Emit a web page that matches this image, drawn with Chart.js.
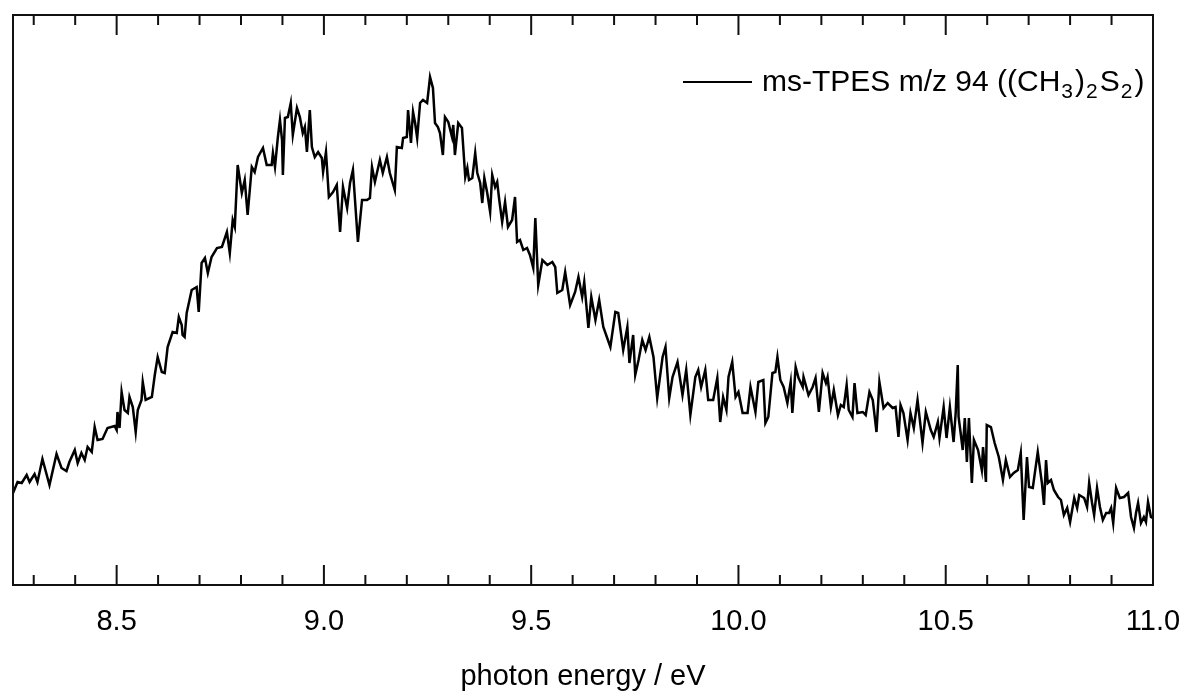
<!DOCTYPE html>
<html>
<head>
<meta charset="utf-8">
<script src="https://cdn.jsdelivr.net/npm/chart.js@4.4.0/dist/chart.umd.min.js"></script>
<style>
    body { margin: 0; background: #fff; }
    #grafico { display: block; }
</style>
</head>
<body>
<canvas id="grafico" width="1185" height="691"></canvas>
<script>
var energia = [
    8.250, 8.261, 8.271, 8.283, 8.290, 8.302, 8.309, 8.321, 8.338, 8.355, 8.367, 8.379, 8.386, 8.399, 8.406, 8.415,
    8.423, 8.430, 8.440, 8.447, 8.454, 8.466, 8.478, 8.495, 8.500, 8.502, 8.507, 8.512, 8.519, 8.527, 8.531, 8.539,
    8.546, 8.551, 8.560, 8.563, 8.570, 8.585, 8.592, 8.599, 8.609, 8.616, 8.623, 8.635, 8.645, 8.650, 8.657, 8.659,
    8.664, 8.669, 8.681, 8.693, 8.698, 8.705, 8.713, 8.720, 8.729, 8.742, 8.754, 8.766, 8.773, 8.780, 8.785, 8.792,
    8.802, 8.809, 8.816, 8.826, 8.833, 8.841, 8.853, 8.862, 8.874, 8.877, 8.882, 8.889, 8.894, 8.899, 8.901, 8.906,
    8.913, 8.920, 8.925, 8.935, 8.942, 8.949, 8.954, 8.959, 8.966, 8.971, 8.978, 8.986, 8.995, 8.998, 9.005, 9.012,
    9.022, 9.031, 9.039, 9.046, 9.056, 9.063, 9.070, 9.082, 9.092, 9.104, 9.111, 9.116, 9.123, 9.135, 9.142, 9.152,
    9.159, 9.171, 9.176, 9.188, 9.191, 9.200, 9.203, 9.210, 9.215, 9.220, 9.225, 9.232, 9.239, 9.249, 9.256, 9.263,
    9.268, 9.275, 9.280, 9.287, 9.292, 9.300, 9.309, 9.312, 9.316, 9.324, 9.333, 9.341, 9.346, 9.350, 9.358, 9.365,
    9.370, 9.377, 9.382, 9.387, 9.394, 9.401, 9.406, 9.413, 9.418, 9.423, 9.430, 9.437, 9.444, 9.454, 9.461, 9.466,
    9.473, 9.481, 9.490, 9.497, 9.505, 9.510, 9.517, 9.527, 9.539, 9.551, 9.558, 9.563, 9.575, 9.582, 9.594, 9.606,
    9.614, 9.623, 9.628, 9.638, 9.645, 9.655, 9.664, 9.674, 9.691, 9.703, 9.710, 9.722, 9.732, 9.737, 9.746, 9.751,
    9.759, 9.768, 9.776, 9.785, 9.795, 9.804, 9.817, 9.824, 9.833, 9.841, 9.853, 9.865, 9.874, 9.884, 9.896, 9.903,
    9.910, 9.920, 9.927, 9.939, 9.949, 9.956, 9.963, 9.971, 9.976, 9.985, 9.993, 10.000, 10.010, 10.022, 10.029, 10.041,
    10.048, 10.060, 10.065, 10.072, 10.082, 10.089, 10.094, 10.101, 10.109, 10.118, 10.126, 10.130, 10.138, 10.145, 10.155, 10.157,
    10.169, 10.179, 10.186, 10.194, 10.203, 10.211, 10.215, 10.223, 10.230, 10.240, 10.247, 10.254, 10.261, 10.266, 10.275, 10.280,
    10.287, 10.300, 10.307, 10.316, 10.324, 10.333, 10.340, 10.350, 10.360, 10.372, 10.379, 10.386, 10.391, 10.398, 10.408, 10.415,
    10.423, 10.432, 10.444, 10.452, 10.464, 10.471, 10.481, 10.485, 10.495, 10.502, 10.510, 10.519, 10.524, 10.529, 10.531, 10.536,
    10.541, 10.546, 10.551, 10.556, 10.563, 10.568, 10.578, 10.587, 10.590, 10.597, 10.599, 10.609, 10.618, 10.628, 10.638, 10.645,
    10.655, 10.664, 10.674, 10.681, 10.688, 10.696, 10.701, 10.710, 10.722, 10.732, 10.737, 10.742, 10.746, 10.754, 10.761, 10.771,
    10.778, 10.785, 10.793, 10.800, 10.810, 10.817, 10.822, 10.834, 10.841, 10.846, 10.853, 10.858, 10.865, 10.872, 10.879, 10.887,
    10.894, 10.899, 10.904, 10.911, 10.920, 10.930, 10.940, 10.947, 10.954, 10.959, 10.964, 10.971, 10.978, 10.983, 10.988, 10.995,
    11.000
];

var intensidade = [
    92, 103, 102, 110, 103, 111, 103, 126, 100, 131, 117, 114, 123, 135, 122, 132,
    125, 138, 133, 158, 145, 146, 157, 159, 155, 173, 157, 193, 175, 172, 188, 178,
    153, 175, 185, 203, 185, 188, 210, 228, 213, 212, 238, 253, 252, 268, 260, 250,
    248, 272, 295, 298, 273, 322, 327, 312, 328, 337, 338, 353, 332, 365, 358, 420,
    392, 405, 370, 418, 413, 428, 437, 420, 420, 432, 418, 448, 465, 445, 410, 467,
    468, 482, 450, 477, 468, 452, 458, 433, 475, 438, 428, 433, 427, 413, 433, 388,
    393, 400, 353, 398, 377, 402, 415, 343, 385, 385, 387, 418, 403, 425, 412, 428,
    412, 395, 438, 437, 447, 448, 475, 442, 473, 462, 447, 482, 485, 482, 508, 497,
    462, 458, 452, 430, 468, 463, 448, 460, 430, 462, 457, 408, 417, 405, 407, 432,
    412, 402, 382, 407, 392, 373, 410, 398, 403, 385, 363, 383, 358, 365, 388, 343,
    345, 335, 337, 330, 317, 367, 300, 325, 320, 323, 318, 292, 295, 313, 280, 293,
    308, 288, 303, 257, 288, 265, 285, 258, 238, 273, 272, 235, 258, 222, 250, 210,
    225, 245, 235, 248, 228, 187, 228, 238, 187, 208, 223, 190, 215, 170, 208, 215,
    198, 215, 185, 185, 207, 163, 188, 175, 208, 223, 188, 193, 172, 172, 198, 173,
    203, 205, 162, 168, 212, 213, 228, 205, 198, 182, 203, 172, 218, 207, 198, 208,
    190, 198, 207, 173, 212, 202, 208, 178, 195, 170, 180, 178, 200, 175, 168, 202,
    172, 173, 170, 193, 185, 153, 203, 177, 182, 177, 178, 148, 180, 172, 145, 172,
    157, 185, 142, 173, 155, 148, 163, 147, 178, 147, 178, 143, 172, 220, 168, 152,
    135, 167, 123, 167, 102, 145, 135, 115, 138, 103, 160, 158, 142, 128, 105, 125,
    108, 112, 115, 132, 65, 128, 98, 97, 133, 102, 80, 125, 102, 105, 95, 88,
    85, 70, 77, 63, 87, 77, 90, 87, 78, 102, 82, 70, 97, 78, 65, 72,
    72, 77, 62, 97, 87, 88, 92, 68, 57, 72, 82, 62, 68, 63, 83, 68,
    67
];

var ticksPrincipais = [8.5, 9.0, 9.5, 10.0, 10.5, 11.0];
var eixoX = { min: 8.25, max: 11.0 };
var eixoY = { min: 0, max: 570 };
var tituloX = 'photon energy / eV';
// texto da legenda dividido em partes normais e subscritas
var legendaPartes = [
    { t: 'ms-TPES m/z 94 ((CH', sub: false },
    { t: '3', sub: true },
    { t: ')', sub: false },
    { t: '2', sub: true },
    { t: 'S', sub: false },
    { t: '2', sub: true },
    { t: ')', sub: false }
];

const fonte = "'Liberation Sans', Arial, sans-serif";

var pontos = energia.map(function (e, i) {
    return { x: e, y: intensidade[i] };
});

// moldura, ticks para dentro e legenda
const molduraPlugin = {
    id: 'moldura',
    afterDraw: function (chart) {
        var ctx = chart.ctx;
        var area = chart.chartArea;
        var x = chart.scales.x;

        ctx.save();
        ctx.strokeStyle = '#111';
        ctx.lineWidth = 2;
        ctx.strokeRect(area.left, area.top, area.right - area.left, area.bottom - area.top);

        var menores = [];
        for (var v = 8.3; v < 11.0; v += 0.1) {
            var r = Math.round(v * 10) / 10;
            if (ticksPrincipais.indexOf(r) < 0) menores.push(r);
        }

        ctx.beginPath();
        ticksPrincipais.forEach(function (t) {
            var px = x.getPixelForValue(t);
            ctx.moveTo(px, area.bottom);
            ctx.lineTo(px, area.bottom - 20);
            ctx.moveTo(px, area.top);
            ctx.lineTo(px, area.top + 20);
        });
        menores.forEach(function (t) {
            var px = x.getPixelForValue(t);
            ctx.moveTo(px, area.bottom);
            ctx.lineTo(px, area.bottom - 10);
            ctx.moveTo(px, area.top);
            ctx.lineTo(px, area.top + 10);
        });
        ctx.stroke();

        // legenda
        ctx.strokeStyle = '#000';
        ctx.lineWidth = 2;
        ctx.beginPath();
        ctx.moveTo(683, 82);
        ctx.lineTo(752, 82);
        ctx.stroke();

        ctx.fillStyle = '#000';
        ctx.textBaseline = 'alphabetic';
        ctx.textAlign = 'left';
        var cx = 762;
        legendaPartes.forEach(function (p) {
            if (p.sub) {
                ctx.font = '21px ' + fonte;
                ctx.fillText(p.t, cx + 1, 98);
                cx += ctx.measureText(p.t).width + 3;
            } else {
                ctx.font = '30px ' + fonte;
                ctx.fillText(p.t, cx, 91);
                cx += ctx.measureText(p.t).width;
            }
        });
        ctx.restore();
    }
};

new Chart(document.getElementById('grafico'), {
    type: 'scatter',
    data: {
        datasets: [{
            label: 'ms-TPES m/z 94 ((CH3)2S2)',
            data: pontos,
            showLine: true,
            borderColor: '#000',
            borderWidth: 2.5,
            pointRadius: 0,
            tension: 0
        }]
    },
    options: {
        responsive: false,
        animation: false,
        devicePixelRatio: 1,
        layout: {
            padding: { left: 13, right: 32, top: 15, bottom: 0 }
        },
        scales: {
            x: {
                type: 'linear',
                min: eixoX.min,
                max: eixoX.max,
                afterBuildTicks: function (scale) {
                    scale.ticks = ticksPrincipais.map(function (v) { return { value: v }; });
                },
                afterFit: function (scale) {
                    scale.height = 106;
                    scale.paddingLeft = 0;
                    scale.paddingRight = 0;
                },
                ticks: {
                    autoSkip: false,
                    maxRotation: 0,
                    padding: 20,
                    color: '#000',
                    font: { family: fonte, size: 29 },
                    callback: function (v) { return Number(v).toFixed(1); }
                },
                grid: { display: false, drawTicks: false },
                border: { display: false },
                title: {
                    display: true,
                    text: tituloX,
                    color: '#000',
                    font: { family: fonte, size: 29, lineHeight: 1 },
                    padding: 0
                }
            },
            y: {
                display: false,
                min: eixoY.min,
                max: eixoY.max
            }
        },
        plugins: {
            legend: { display: false },
            tooltip: { enabled: false }
        }
    },
    plugins: [molduraPlugin]
});
</script>
</body>
</html>
